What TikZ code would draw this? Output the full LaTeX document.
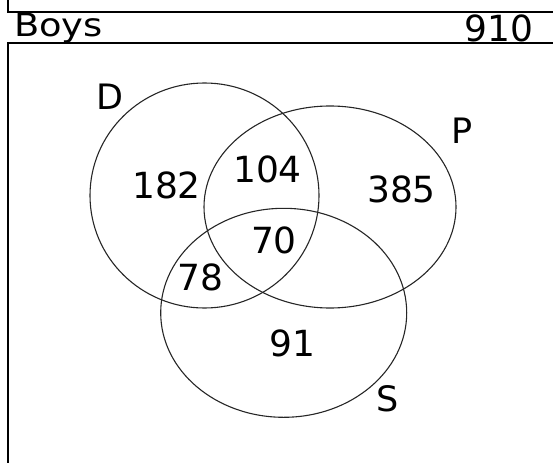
\documentclass[tikz,border=0pt]{standalone}
\usepackage{fontspec}
\setmainfont{DejaVu Sans}
\newfontfamily\headfont[FakeStretch=1.15]{DejaVu Sans}
\usepackage{tikz}
\usetikzlibrary{positioning}

\begin{document}
\begin{tikzpicture}[x=1pt, y=-1pt, line width=1.1pt,
    setname/.style={inner sep=0pt, font=\fontsize{35}{41}\selectfont},
    count/.style={inner sep=0pt, font=\fontsize{36}{42}\selectfont},
    head/.style={inner sep=0pt, font=\headfont\fontsize{32}{38}\selectfont}]
\useasboundingbox (0,0) rectangle (553,465);

% frame of the table
\draw (8,0) -- (8,12) -- (553,12);
\draw (553,43) -- (8,43) -- (8,463);
\node[head, anchor=base west] (boys) at (13.5,37) {Boys};
\node[count, anchor=base east] (total) at (534,42) {910};

% the three sets
\draw[black!85] (204.5,195.5) ellipse [x radius=114.5, y radius=112.5];
\draw[black!85] (330,207) ellipse [x radius=126, y radius=101];
\draw[black!85] (283.7,312.8) ellipse [x radius=123, y radius=104.5];

\node[setname] (setD) at (109.5,97) {D};
\node[setname] (setP) at (462,131) {P};
\node[setname] (setS) at (388,399) {S};

% counts in each region
\node[count] (onlyD) at (166.5,185.5) {182};
\node[count] (DP) at (267.5,169.5) {104};
\node[count] (onlyP) at (401.5,189.5) {385};
\node[count] (DPS) at (274,240.5) {70};
\node[count] (DS) at (200.5,277.5) {78};
\node[count] (onlyS) at (292.5,343.5) {91};
\end{tikzpicture}
\end{document}
